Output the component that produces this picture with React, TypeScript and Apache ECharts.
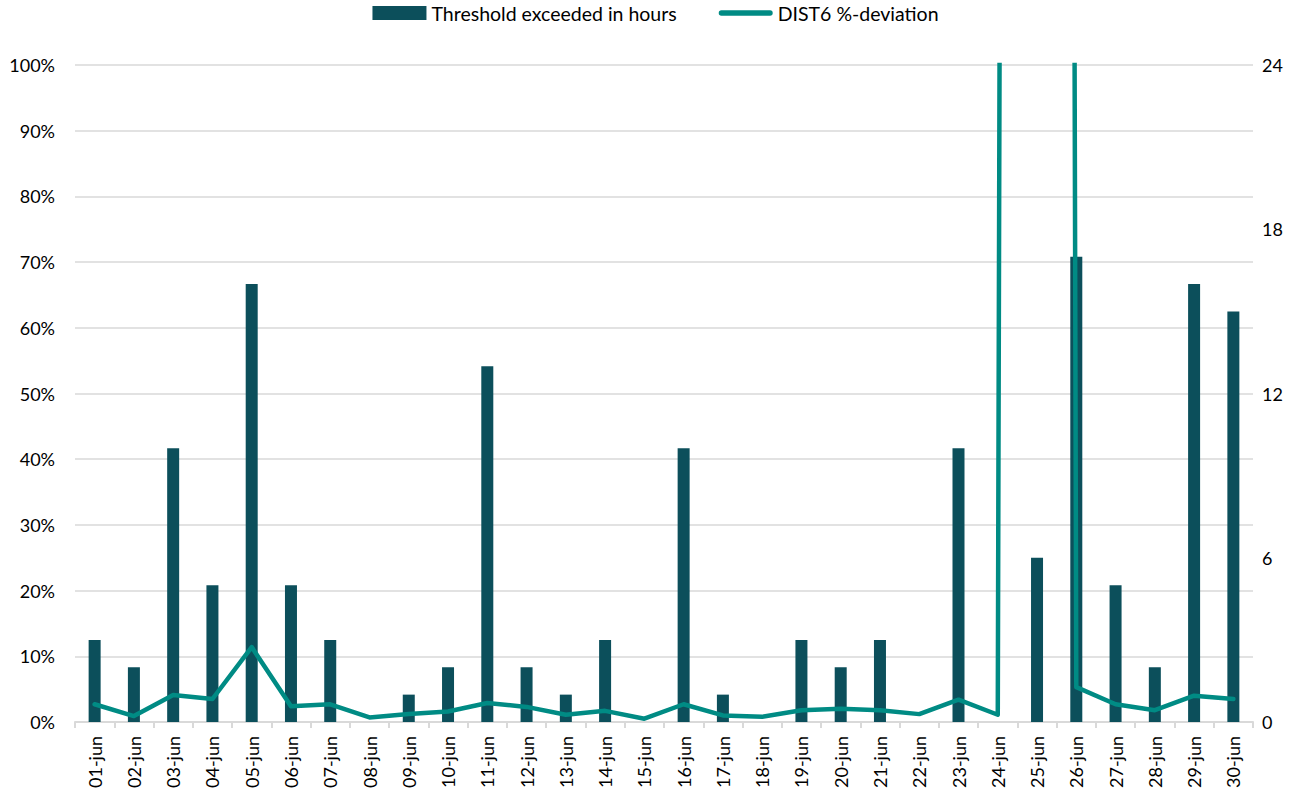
import React, { useEffect, useRef } from "react";
import * as echarts from "echarts";

const categories = [
  "01-jun", "02-jun", "03-jun", "04-jun", "05-jun", "06-jun", "07-jun", "08-jun", "09-jun", "10-jun",
  "11-jun", "12-jun", "13-jun", "14-jun", "15-jun", "16-jun", "17-jun", "18-jun", "19-jun", "20-jun",
  "21-jun", "22-jun", "23-jun", "24-jun", "25-jun", "26-jun", "27-jun", "28-jun", "29-jun", "30-jun",
];

// Threshold exceeded in hours (right axis)
const hoursExceeded = [3, 2, 10, 5, 16, 5, 3, 0, 1, 2, 13, 2, 1, 3, 0, 10, 1, 0, 3, 2, 3, 0, 10, 0, 6, 17, 5, 2, 16, 15];

// DIST6 %-deviation (left axis, fraction)
const deviation = [
  0.027, 0.009, 0.041, 0.035, 0.114, 0.024, 0.027, 0.007, 0.012, 0.016,
  0.029, 0.023, 0.011, 0.017, 0.005, 0.027, 0.010, 0.008, 0.018, 0.020,
  0.018, 0.012, 0.034, 0.011, 22.0, 0.053, 0.027, 0.018, 0.040, 0.035,
];

const leftTicks = { min: 0, max: 1, interval: 0.1 };
const rightTicks = { min: 0, max: 24, interval: 6 };

const FONT = "Lato, 'Open Sans', sans-serif";

export default function App() {
  const ref = useRef<HTMLDivElement>(null);
  useEffect(() => {
    if (!ref.current) return;
    const chart = echarts.init(ref.current, null, { renderer: "svg" });
    chart.setOption({
      animation: false,
      textStyle: { fontFamily: FONT },
      legend: {
        top: 3,
        left: "center",
        padding: 0,
        itemGap: 42,
        itemWidth: 54,
        itemHeight: 14,
        textStyle: { fontSize: 19.5, color: "#000", fontFamily: FONT },
        data: [
          { name: "Threshold exceeded in hours", icon: "rect" },
          {
            name: "DIST6 %-deviation",
            icon: "path://M2.5,0 L47.5,0 A2.5,2.5 0 0 1 47.5,5 L2.5,5 A2.5,2.5 0 0 1 2.5,0 Z",
          },
        ],
      },
      grid: { left: 75, right: 58, top: 65, bottom: 73, containLabel: false },
      xAxis: {
        type: "category",
        data: categories,
        boundaryGap: true,
        axisLine: { lineStyle: { color: "#d9d9d9", width: 2 } },
        axisTick: { show: true, length: 6, lineStyle: { color: "#d9d9d9", width: 2 } },
        axisLabel: { rotate: 90, color: "#000", fontSize: 18, margin: 14, fontFamily: FONT, interval: 0 },
      },
      yAxis: [
        {
          type: "value",
          min: leftTicks.min,
          max: leftTicks.max,
          interval: leftTicks.interval,
          position: "left",
          axisLine: { show: false },
          axisTick: { show: false },
          splitLine: { lineStyle: { color: "#d9d9d9", width: 1.5 } },
          axisLabel: {
            color: "#000",
            fontSize: 18,
            margin: 20,
            fontFamily: FONT,
            formatter: (v: number) => Math.round(v * 100) + "%",
          },
        },
        {
          type: "value",
          min: rightTicks.min,
          max: rightTicks.max,
          interval: rightTicks.interval,
          position: "right",
          axisLine: { show: false },
          axisTick: { show: false },
          splitLine: { show: false },
          axisLabel: { color: "#000", fontSize: 18, margin: 9, fontFamily: FONT },
        },
      ],
      series: [
        {
          name: "Threshold exceeded in hours",
          type: "bar",
          yAxisIndex: 1,
          data: hoursExceeded,
          barWidth: 12,
          itemStyle: { color: "#0c4f5b" },
        },
        {
          name: "DIST6 %-deviation",
          type: "line",
          yAxisIndex: 0,
          data: deviation,
          clip: true,
          showSymbol: false,
          symbol: "none",
          lineStyle: { color: "#008b84", width: 4.5, cap: "round", join: "round" },
          itemStyle: { color: "#008b84" },
        },
      ],
    });
    return () => chart.dispose();
  }, []);
  return (
    <div
      ref={ref}
      style={{ position: "absolute", left: 0, top: 0, width: 1311, height: 795 }}
    />
  );
}
